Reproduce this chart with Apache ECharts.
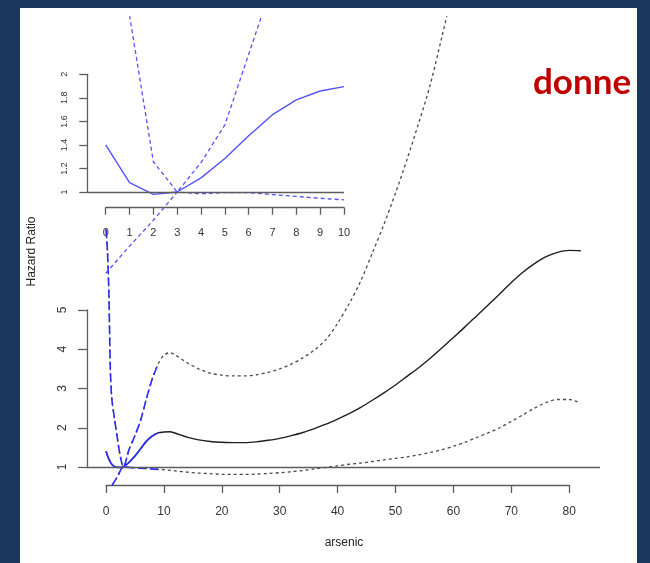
<!DOCTYPE html>
<html>
<head>
<meta charset="utf-8">
<script src="https://cdn.jsdelivr.net/npm/echarts@6/dist/echarts.min.js"></script>
<style>
  html, body { margin: 0; padding: 0; background: #1b375d; }
  #chart { width: 650px; height: 563px; }
</style>
</head>
<body>
<div id="chart"></div>
<script>
// ---- Main panel: hazard ratio by arsenic (spline fit, 95% CI) ----
const fitX = [0, 0.5, 1, 1.5, 2, 2.5, 3, 4, 5, 6, 7, 8, 9, 10, 11, 12, 14, 16, 18, 20, 22, 24, 26, 28, 30,
  32, 34, 36, 38, 40, 42, 44, 46, 48, 50, 52, 54, 56, 58, 60, 62, 64, 66, 68, 70, 72, 74, 76, 78, 80, 82];
const fitHR = [1.40, 1.20, 1.07, 1.01, 0.99, 0.99, 1.00, 1.12, 1.28, 1.47, 1.66, 1.79, 1.87, 1.89, 1.90, 1.86,
  1.76, 1.69, 1.65, 1.63, 1.62, 1.62, 1.64, 1.68, 1.73, 1.80, 1.88, 1.98, 2.09, 2.22, 2.36, 2.52, 2.70, 2.89,
  3.09, 3.31, 3.53, 3.77, 4.03, 4.30, 4.57, 4.85, 5.13, 5.41, 5.70, 5.96, 6.18, 6.36, 6.47, 6.52, 6.51];

const upperX = [0, 0.25, 0.5, 0.75, 1, 1.5, 2, 2.5, 3, 4, 5, 6, 7, 8, 9, 10, 11, 12, 14, 16, 18, 20, 22, 24,
  26, 28, 30, 32, 34, 36, 38, 40, 42, 44, 46, 48, 50, 52, 54, 56, 58, 60];
const upperHR = [7.05, 6.5, 5.4, 3.5, 2.75, 2.2, 1.7, 1.25, 1.00, 1.45, 1.80, 2.20, 2.75, 3.25, 3.62, 3.85,
  3.91, 3.85, 3.66, 3.50, 3.39, 3.34, 3.32, 3.32, 3.35, 3.41, 3.50, 3.62, 3.78, 3.98, 4.25, 4.66, 5.16, 5.74,
  6.45, 7.18, 7.98, 8.84, 9.76, 10.74, 11.95, 13.20];

const lowerX = [0, 1, 2, 3, 4, 5, 6, 7, 8, 9, 10, 12, 14, 16, 18, 20, 22, 24, 26, 28, 30, 32, 34, 36, 38, 40,
  42, 44, 46, 48, 50, 52, 54, 56, 58, 60, 62, 64, 66, 68, 70, 72, 74, 76, 78, 80, 82];
const lowerHR = [0.28, 0.52, 0.76, 1.00, 0.99, 0.98, 0.97, 0.96, 0.95, 0.94, 0.93, 0.90, 0.87, 0.845, 0.83,
  0.815, 0.81, 0.81, 0.82, 0.835, 0.855, 0.88, 0.91, 0.95, 0.99, 1.03, 1.07, 1.10, 1.14, 1.18, 1.22, 1.26,
  1.31, 1.37, 1.44, 1.53, 1.63, 1.75, 1.87, 2.00, 2.16, 2.33, 2.50, 2.64, 2.72, 2.72, 2.62];

// low-exposure range highlighted in blue
const lowRangeMax = 9;

const mainTicksX = [0, 80, 10];   // min, max, step
const mainTicksY = [1, 5, 1];

// ---- Inset: zoom on arsenic 0-10 ----
const insetX = [0, 1, 2, 3, 4, 5, 6, 7, 8, 9, 10];
const insetFit = [1.40, 1.08, 0.98, 1.00, 1.12, 1.285, 1.478, 1.657, 1.782, 1.858, 1.895];
const insetUpperX = [1, 2, 3, 4, 5, 6, 7];
const insetUpper = [2.50, 1.257, 1.00, 1.25, 1.57, 2.17, 2.77];
const insetLower = [0.31, 0.54, 0.76, 1.00, 0.985, 0.995, 0.995, 0.978, 0.962, 0.947, 0.933];

const insetTicksX = [0, 10, 1];
const insetTicksY = [1, 2, 0.2];

const pairs = (xs, ys) => xs.map((x, i) => [x, ys[i]]);
const upTo = (xs, ys, m) => pairs(xs, ys).filter(p => p[0] <= m);

const FONT = 'Liberation Sans, Arial, sans-serif';
const AX = '#5c5c5c';
const BLACK = '#1e1e1e';
const GREYDASH = '#4a4a4a';
const BLUE = '#2b2bff';
const BLUE_IN = '#5252ff';

const hidden = (gi, min, max) => ({ gridIndex: gi, type: 'value', min, max, show: false });

const chart = echarts.init(document.getElementById('chart'), null, { renderer: 'canvas' });

const line = (name, data, xi, color, width, type, extra) => Object.assign({
  name, type: 'line', data, xAxisIndex: xi, yAxisIndex: xi,
  showSymbol: false, symbol: 'none', silent: true, animation: false,
  lineStyle: { color, width, type }
}, extra || {});

const smooth = { smooth: 0.3 };

chart.setOption({
  animation: false,
  backgroundColor: 'transparent',
  graphic: [
    { type: 'rect', z: -10, silent: true, shape: { x: 20, y: 8, width: 617, height: 560 }, style: { fill: '#ffffff' } },
    { type: 'text', silent: true, x: 32, y: 251.5, rotation: Math.PI / 2,
      style: { text: 'Hazard Ratio', font: '12px ' + FONT, fill: '#222', align: 'center', verticalAlign: 'middle' } },
    { type: 'text', silent: true, x: 344, y: 543,
      style: { text: 'arsenic', font: '12px ' + FONT, fill: '#222', align: 'center', verticalAlign: 'middle' } },
    { type: 'text', silent: true, x: 533, y: 83,
      style: { text: 'donne', font: 'bold 35px Lato, "Open Sans", sans-serif', fill: '#c00000', align: 'left', verticalAlign: 'middle' } }
  ],
  grid: [
    { left: 87, top: 17, width: 513, height: 469 },          // main plotting area
    { left: 106, top: 484, width: 463.2, height: 1 },       // main x axis
    { left: 87, top: 310, width: 1, height: 157 },           // main y axis
    { left: 88, top: 17, width: 256, height: 263 },          // inset plotting area
    { left: 105.7, top: 206.7, width: 238.3, height: 1 },   // inset x axis
    { left: 87.7, top: 74.3, width: 1, height: 117.7 }       // inset y axis
  ],
  xAxis: [
    hidden(0, -3.28, 85.32),
    { gridIndex: 1, type: 'value', min: mainTicksX[0], max: mainTicksX[1], interval: mainTicksX[2], position: 'bottom',
      axisLine: { lineStyle: { color: AX, width: 1.3 } },
      axisTick: { length: 8, lineStyle: { color: AX, width: 1.3 } },
      axisLabel: { margin: 21, fontSize: 12, fontFamily: FONT, color: '#333' },
      splitLine: { show: false } },
    hidden(2, 0, 1),
    hidden(3, -0.743, 10),
    { gridIndex: 4, type: 'value', min: insetTicksX[0], max: insetTicksX[1], interval: insetTicksX[2], position: 'bottom',
      axisLine: { lineStyle: { color: AX, width: 1.3 } },
      axisTick: { length: 7, lineStyle: { color: AX, width: 1.3 } },
      axisLabel: { margin: 20, fontSize: 11, fontFamily: FONT, color: '#333' },
      splitLine: { show: false } },
    hidden(5, 0, 1)
  ],
  yAxis: [
    hidden(0, 0.516, 12.465),
    hidden(1, 0, 1),
    { gridIndex: 2, type: 'value', min: mainTicksY[0], max: mainTicksY[1], interval: mainTicksY[2], position: 'left',
      axisLine: { lineStyle: { color: AX, width: 1.3 } },
      axisTick: { length: 9, lineStyle: { color: AX, width: 1.3 } },
      axisLabel: { margin: 18, rotate: 90, fontSize: 12, fontFamily: FONT, color: '#333' },
      splitLine: { show: false } },
    hidden(3, 0.2523, 2.4868),
    hidden(4, 0, 1),
    { gridIndex: 5, type: 'value', min: insetTicksY[0], max: insetTicksY[1], interval: insetTicksY[2], position: 'left',
      axisLine: { lineStyle: { color: AX, width: 1.3 } },
      axisTick: { length: 8.4, lineStyle: { color: AX, width: 1.3 } },
      axisLabel: { margin: 19, rotate: 90, fontSize: 9, fontFamily: FONT, color: '#333' },
      splitLine: { show: false } }
  ],
  series: [
    line('HR', pairs(fitX, fitHR), 0, BLACK, 1.4, 'solid', Object.assign({
      markLine: { silent: true, symbol: ['none', 'none'], label: { show: false },
        lineStyle: { color: AX, width: 1.3, type: 'solid' }, data: [{ yAxis: 1 }] }
    }, smooth)),
    line('upper', pairs(upperX, upperHR), 0, GREYDASH, 1.3, [3, 3], smooth),
    line('lower', pairs(lowerX, lowerHR), 0, GREYDASH, 1.3, [3, 3], smooth),
    line('HR low', upTo(fitX, fitHR, lowRangeMax), 0, BLUE, 1.6, 'solid', smooth),
    line('upper low', upTo(upperX, upperHR, lowRangeMax), 0, BLUE, 1.6, [8, 4], smooth),
    line('lower low', upTo(lowerX, lowerHR, lowRangeMax), 0, BLUE, 1.6, [8, 4], smooth),

    line('inset HR', pairs(insetX, insetFit), 3, BLUE_IN, 1.4, 'solid', {
      markLine: { silent: true, symbol: ['none', 'none'], label: { show: false },
        lineStyle: { color: AX, width: 1.3, type: 'solid' }, data: [{ yAxis: 1 }] }
    }),
    line('inset upper', pairs(insetUpperX, insetUpper), 3, BLUE_IN, 1.3, [4, 3]),
    line('inset lower', pairs(insetX, insetLower), 3, BLUE_IN, 1.3, [4, 3])
  ]
});
</script>
</body>
</html>
